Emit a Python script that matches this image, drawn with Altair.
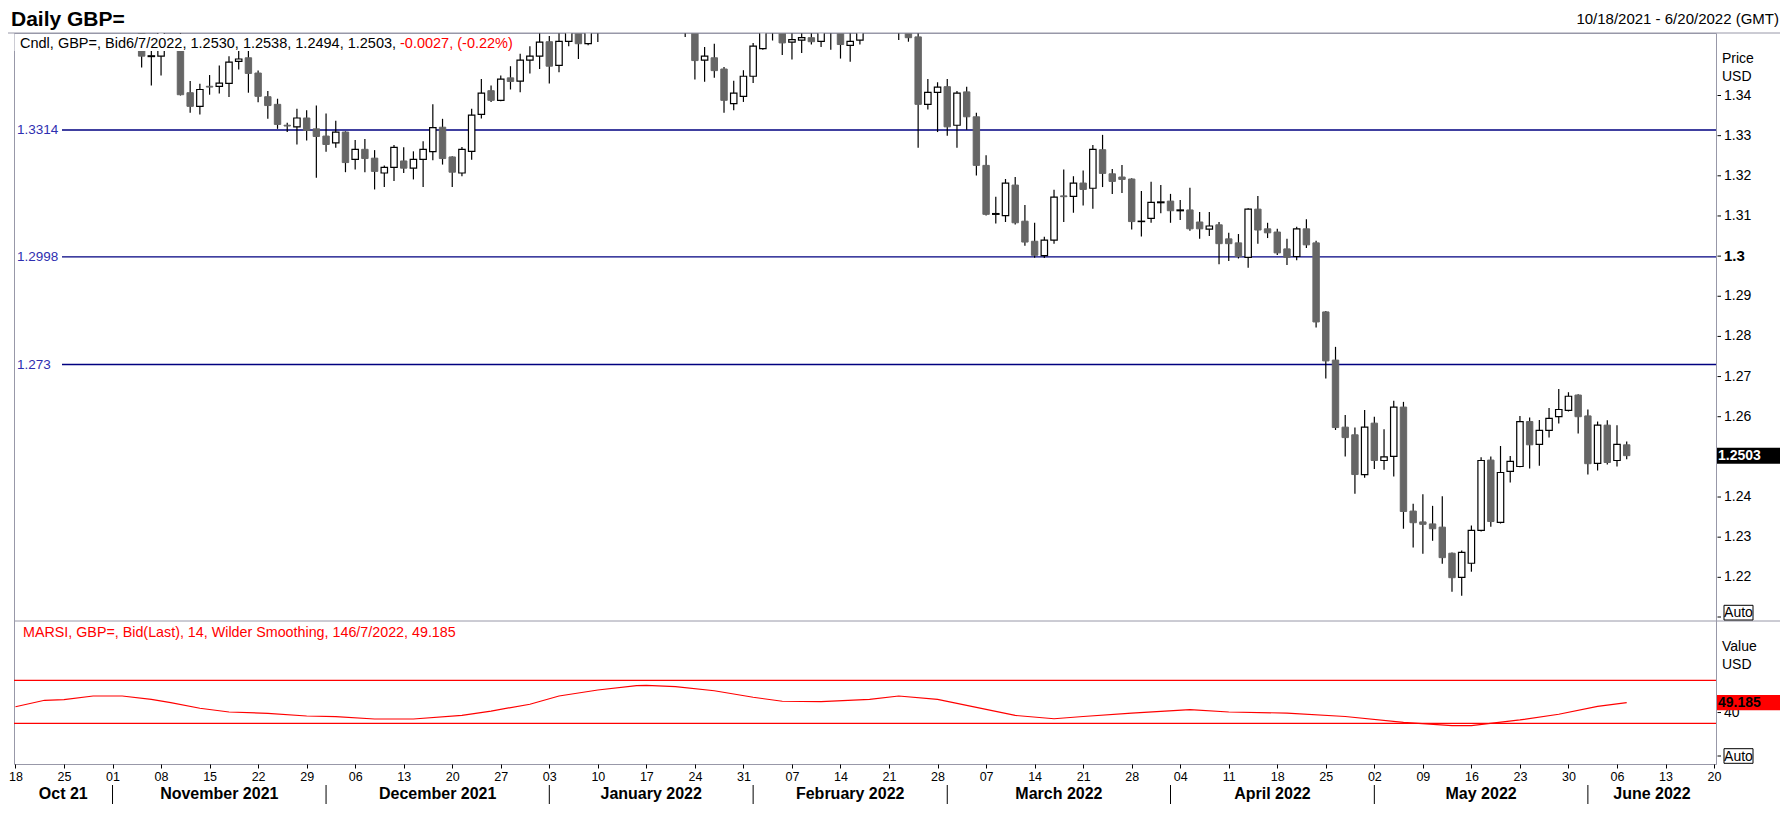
import altair as alt
import pandas as pd

# ---------------- data (trading-day index: 0 = Mon 18 Oct 2021) ----------------
day_idx = [13, 14, 15, 17, 18, 19, 20, 21, 22, 23, 24, 25, 26, 27, 28, 29, 30, 31, 32, 33,
           34, 35, 36, 37, 38, 39, 40, 41, 42, 43, 44, 45, 46, 47, 48, 49, 50, 51, 52, 53,
           54, 55, 56, 57, 58, 59, 60, 69, 70, 71, 72, 73, 74, 75, 76, 77, 78, 79, 80, 81,
           82, 83, 84, 85, 86, 87, 91, 92, 93, 94, 95, 96, 97, 98, 99, 100, 101, 102, 103, 104,
           105, 106, 107, 108, 109, 110, 111, 112, 113, 114, 115, 116, 117, 118, 119, 120, 121, 122, 123, 124,
           125, 126, 127, 128, 129, 130, 131, 132, 133, 134, 135, 136, 137, 138, 139, 140, 141, 142, 143, 144,
           145, 146, 147, 148, 149, 150, 151, 152, 153, 154, 155, 156, 157, 158, 159, 160, 161, 162, 163, 164,
           165, 166]
open_p = [1.3680, 1.3497, 1.3498, 1.3545, 1.3407, 1.3373, 1.3423, 1.3423, 1.3430, 1.3485, 1.3494, 1.3456, 1.3397, 1.3378, 1.3326, 1.3322, 1.3344, 1.3317, 1.3299, 1.3282,
          1.3309, 1.3241, 1.3266, 1.3244, 1.3207, 1.3221, 1.3237, 1.3219, 1.3241, 1.3260, 1.3321, 1.3247, 1.3207, 1.3261, 1.3353, 1.3412, 1.3388, 1.3444, 1.3436, 1.3488,
          1.3498, 1.3534, 1.3475, 1.3535, 1.3570, 1.3529, 1.3590, 1.3610, 1.3557, 1.3488, 1.3494, 1.3466, 1.3380, 1.3398, 1.3448, 1.3517, 1.3570, 1.3600, 1.3533, 1.3538,
          1.3544, 1.3535, 1.3575, 1.3560, 1.3525, 1.3538, 1.3595, 1.3590, 1.3546, 1.3378, 1.3408, 1.3422, 1.3326, 1.3409, 1.3347, 1.3226, 1.3104, 1.3101, 1.3177, 1.3087,
          1.3037, 1.3001, 1.3040, 1.3150, 1.3149, 1.3182, 1.3169, 1.3265, 1.3205, 1.3197, 1.3192, 1.3086, 1.3094, 1.3133, 1.3137, 1.3113, 1.3115, 1.3085, 1.3067, 1.3078,
          1.3043, 1.3033, 1.2997, 1.3117, 1.3068, 1.3060, 1.3018, 1.2999, 1.3068, 1.3033, 1.2861, 1.2741, 1.2574, 1.2555, 1.2456, 1.2584, 1.2491, 1.2501, 1.2624, 1.2365,
          1.2338, 1.2333, 1.2325, 1.2260, 1.2200, 1.2235, 1.2317, 1.2492, 1.2337, 1.2464, 1.2476, 1.2588, 1.2531, 1.2566, 1.2600, 1.2616, 1.2654, 1.2602, 1.2484, 1.2579,
          1.2491, 1.2530]
high_p = [1.3700, 1.3525, 1.3580, 1.3560, 1.3436, 1.3429, 1.3451, 1.3475, 1.3498, 1.3512, 1.3512, 1.3462, 1.3411, 1.3392, 1.3332, 1.3367, 1.3363, 1.3375, 1.3355, 1.3337,
          1.3311, 1.3289, 1.3292, 1.3264, 1.3226, 1.3277, 1.3271, 1.3261, 1.3286, 1.3378, 1.3342, 1.3249, 1.3272, 1.3367, 1.3441, 1.3425, 1.3450, 1.3473, 1.3504, 1.3523,
          1.3565, 1.3548, 1.3565, 1.3590, 1.3590, 1.3610, 1.3640, 1.3640, 1.3570, 1.3521, 1.3529, 1.3471, 1.3437, 1.3463, 1.3531, 1.3580, 1.3630, 1.3630, 1.3565, 1.3565,
          1.3560, 1.3640, 1.3600, 1.3580, 1.3565, 1.3600, 1.3640, 1.3610, 1.3565, 1.3441, 1.3433, 1.3441, 1.3411, 1.3422, 1.3357, 1.3251, 1.3148, 1.3192, 1.3197, 1.3127,
          1.3083, 1.3048, 1.3165, 1.3216, 1.3199, 1.3213, 1.3277, 1.3302, 1.3217, 1.3227, 1.3194, 1.3162, 1.3185, 1.3177, 1.3155, 1.3140, 1.3170, 1.3110, 1.3110, 1.3085,
          1.3058, 1.3055, 1.3119, 1.3150, 1.3083, 1.3068, 1.3043, 1.3073, 1.3092, 1.3038, 1.2863, 1.2774, 1.2604, 1.2573, 1.2617, 1.2600, 1.2569, 1.2640, 1.2637, 1.2383,
          1.2407, 1.2378, 1.2402, 1.2262, 1.2267, 1.2329, 1.2499, 1.2501, 1.2527, 1.2502, 1.2602, 1.2598, 1.2592, 1.2622, 1.2669, 1.2661, 1.2656, 1.2618, 1.2588, 1.2591,
          1.2579, 1.2538]
low_p = [1.3470, 1.3425, 1.3450, 1.3400, 1.3357, 1.3353, 1.3402, 1.3405, 1.3396, 1.3465, 1.3407, 1.3383, 1.3342, 1.3317, 1.3309, 1.3278, 1.3288, 1.3195, 1.3260, 1.3270,
         1.3209, 1.3216, 1.3209, 1.3166, 1.3172, 1.3187, 1.3207, 1.3191, 1.3172, 1.3239, 1.3228, 1.3172, 1.3199, 1.3240, 1.3343, 1.3384, 1.3386, 1.3415, 1.3408, 1.3455,
         1.3466, 1.3430, 1.3458, 1.3523, 1.3491, 1.3525, 1.3533, 1.3546, 1.3440, 1.3434, 1.3444, 1.3357, 1.3363, 1.3384, 1.3431, 1.3514, 1.3537, 1.3501, 1.3490, 1.3506,
         1.3527, 1.3521, 1.3514, 1.3492, 1.3484, 1.3527, 1.3538, 1.3534, 1.3270, 1.3365, 1.3309, 1.3300, 1.3270, 1.3315, 1.3201, 1.3101, 1.3081, 1.3085, 1.3079, 1.3026,
         1.2996, 1.2995, 1.3031, 1.3085, 1.3108, 1.3126, 1.3118, 1.3172, 1.3155, 1.3157, 1.3066, 1.3049, 1.3083, 1.3107, 1.3083, 1.3090, 1.3063, 1.3043, 1.3050, 1.2980,
         1.2988, 1.2994, 1.2971, 1.3031, 1.3045, 1.3003, 1.2978, 1.2990, 1.3020, 1.2822, 1.2695, 1.2567, 1.2501, 1.2408, 1.2448, 1.2470, 1.2468, 1.2451, 1.2321, 1.2274,
         1.2259, 1.2291, 1.2234, 1.2164, 1.2154, 1.2214, 1.2314, 1.2326, 1.2334, 1.2436, 1.2474, 1.2471, 1.2478, 1.2548, 1.2583, 1.2613, 1.2558, 1.2456, 1.2466, 1.2481,
         1.2476, 1.2494]
close_p = [1.3498, 1.3499, 1.3565, 1.3402, 1.3373, 1.3415, 1.3421, 1.3431, 1.3483, 1.3491, 1.3455, 1.3398, 1.3375, 1.3328, 1.3324, 1.3344, 1.3313, 1.3298, 1.3278, 1.3309,
           1.3233, 1.3266, 1.3243, 1.3211, 1.3221, 1.3271, 1.3219, 1.3241, 1.3266, 1.3320, 1.3243, 1.3209, 1.3266, 1.3351, 1.3406, 1.3388, 1.3441, 1.3435, 1.3488, 1.3498,
           1.3533, 1.3473, 1.3535, 1.3570, 1.3529, 1.3590, 1.3600, 1.3557, 1.3487, 1.3498, 1.3462, 1.3388, 1.3406, 1.3448, 1.3523, 1.3570, 1.3600, 1.3531, 1.3539, 1.3544,
           1.3534, 1.3565, 1.3560, 1.3527, 1.3535, 1.3590, 1.3600, 1.3544, 1.3378, 1.3408, 1.3421, 1.3322, 1.3406, 1.3347, 1.3226, 1.3104, 1.3106, 1.3182, 1.3083, 1.3035,
           1.3002, 1.3040, 1.3147, 1.3148, 1.3182, 1.3166, 1.3266, 1.3206, 1.3186, 1.3191, 1.3086, 1.3087, 1.3134, 1.3135, 1.3113, 1.3115, 1.3068, 1.3068, 1.3075, 1.3031,
           1.3031, 1.2999, 1.3117, 1.3065, 1.3058, 1.3008, 1.2997, 1.3068, 1.3028, 1.2836, 1.2739, 1.2573, 1.2548, 1.2456, 1.2574, 1.2491, 1.2500, 1.2624, 1.2364, 1.2336,
           1.2332, 1.2321, 1.2249, 1.2199, 1.2262, 1.2317, 1.2491, 1.2339, 1.2461, 1.2489, 1.2588, 1.2530, 1.2566, 1.2596, 1.2618, 1.2651, 1.2600, 1.2483, 1.2579, 1.2486,
           1.2531, 1.2503]

rsi_idx = [0, 3, 5, 8, 11, 14, 16, 19, 22, 26, 30, 33, 37, 41, 46, 49, 53, 56, 60, 64, 65, 68, 72,
           76, 79, 83, 88, 91, 95, 99, 103, 107, 110, 115, 121, 125, 131, 137, 143, 148, 150, 155,
           159, 163, 166]
rsi_val = [45.4, 51.4, 52.0, 55.4, 55.4, 52.3, 49.2, 44.0, 40.5, 39.3, 36.8, 36.2, 34.0, 34.0, 37.4,
           41.4, 47.7, 55.4, 61.0, 65.0, 65.3, 64.1, 60.3, 54.2, 50.5, 50.1, 52.2, 55.4, 52.2, 44.8,
           37.3, 34.2, 36.3, 39.5, 42.7, 40.5, 39.5, 36.3, 30.9, 27.8, 27.8, 33.1, 38.4, 45.8, 49.185]
rsi_levels = [70, 30]

levels = [1.3314, 1.2998, 1.273]
level_text = ["1.3314", "1.2998", "1.273"]

# 1.25 sits under the last-price box, so only its tick mark is drawn
price_ticks = [1.34, 1.33, 1.32, 1.31, 1.30, 1.29, 1.28, 1.27, 1.26, 1.24, 1.23, 1.22]
price_tick_text = ["1.34", "1.33", "1.32", "1.31", "1.3", "1.29", "1.28", "1.27", "1.26",
                   "1.24", "1.23", "1.22"]
price_tick_bold = [False, False, False, False, True, False, False, False, False, False, False, False]
rsi_ticks = [40]
rsi_tick_text = ["40"]

monday_idx = list(range(0, 176, 5))
monday_text = ["18", "25", "01", "08", "15", "22", "29", "06", "13", "20", "27", "03", "10", "17",
               "24", "31", "07", "14", "21", "28", "07", "14", "21", "28", "04", "11", "18", "25",
               "02", "09", "16", "23", "30", "06", "13", "20"]
month_names = ["Oct 21", "November 2021", "December 2021", "January 2022", "February 2022",
               "March 2022", "April 2022", "May 2022", "June 2022"]
month_start = [-0.15, 10, 32, 55, 76, 96, 119, 140, 162]
month_end = [10, 32, 55, 76, 96, 119, 140, 162, 175.2]

title_text = "Daily GBP="
range_text = "10/18/2021 - 6/20/2022 (GMT)"
cndl_text = "Cndl, GBP=, Bid6/7/2022, 1.2530, 1.2538, 1.2494, 1.2503, "
chg_text = "-0.0027, (-0.22%)"
rsi_text = "MARSI, GBP=, Bid(Last),  14, Wilder Smoothing, 146/7/2022, 49.185"
last_price = 1.2503
last_price_text = "1.2503"
last_rsi = 49.185
last_rsi_text = "49.185"

# ---------------- layout ----------------
W, H, PH = 1702, 731, 588
FONT = "Liberation Sans, Arial, sans-serif"
GRAY = "#9898a8"

x_scale = alt.Scale(domain=[-0.15, 175.2], nice=False, zero=False)
p_scale = alt.Scale(domain=[1.20912, 1.35557], range=[PH, 0], nice=False, zero=False)
r_scale = alt.Scale(domain=[-7.9, 125.2], range=[H, PH], nice=False, zero=False)

label_expr = "[" + ",".join("'%s'" % t for t in monday_text) + "][round(datum.value/5)]"
x_axis = alt.Axis(values=monday_idx, labelExpr=label_expr, title=None, grid=False, domain=False,
                  ticks=True, tickSize=4, tickColor="#000000", labelFont=FONT, labelFontSize=12.5,
                  labelColor="#000000", labelPadding=2, labelFlush=True, labelOverlap=False)


def X(f):
    return alt.X(f, type="quantitative", scale=x_scale, axis=x_axis)


def PY(f):
    return alt.Y(f, type="quantitative", scale=p_scale, axis=None)


def RY(f):
    return alt.Y(f, type="quantitative", scale=r_scale, axis=None)


one = lambda **kw: pd.DataFrame({k: [v] for k, v in kw.items()})

candles = pd.DataFrame({"i": day_idx, "o": open_p, "h": high_p, "l": low_p, "c": close_p})
base = alt.Chart(candles)

wicks = base.mark_rule(color="#000000", strokeWidth=1.2, clip=True).encode(
    x=X("i"), y=PY("l"), y2="h")
body = base.transform_calculate(x0="datum.i - 0.33", x1="datum.i + 0.33")
up = body.transform_filter("datum.c >= datum.o").mark_rect(
    fill="white", stroke="#000000", strokeWidth=1.2, clip=True).encode(
    x=X("x0"), x2="x1", y=PY("o"), y2="c")
down = body.transform_filter("datum.c < datum.o").mark_rect(
    fill="#666666", stroke="#666666", strokeWidth=1, clip=True).encode(
    x=X("x0"), x2="x1", y=PY("o"), y2="c")

lv = pd.DataFrame({"v": levels, "t": level_text})
lv_rules = alt.Chart(lv).mark_rule(color="#000080", strokeWidth=1.4).encode(
    y=PY("v"), x=alt.value(48), x2=alt.value(W))
lv_text = alt.Chart(lv).mark_text(align="left", baseline="middle", font=FONT, fontSize=13.5,
                                  color="#2e2eb0").encode(y=PY("v"), x=alt.value(3), text="t")

mask = alt.Chart(one(k=0)).mark_rect(fill="white").encode(
    x=alt.value(0.5), x2=alt.value(512), y=alt.value(1), y2=alt.value(18))

rsi_df = pd.DataFrame({"i": rsi_idx, "v": rsi_val})
rsi_line = alt.Chart(rsi_df).mark_line(color="#ff0000", strokeWidth=1.2).encode(
    x=X("i"), y=RY("v"))
rsi_lv = alt.Chart(pd.DataFrame({"v": rsi_levels})).mark_rule(color="#ff0000", strokeWidth=1.2).encode(
    y=RY("v"))

# separators
top_sep = alt.Chart(one(k=0)).mark_rule(color=GRAY).encode(
    x=alt.value(-6), x2=alt.value(W + 64), y=alt.value(0))
mid_sep = alt.Chart(one(k=0)).mark_rule(color=GRAY).encode(
    x=alt.value(0), x2=alt.value(W + 64), y=alt.value(PH))

# price axis (right)
pt = pd.DataFrame({"v": price_ticks, "t": price_tick_text, "b": price_tick_bold})
pt_marks = alt.Chart(pt).mark_rule(color="#000000").encode(
    y=PY("v"), x=alt.value(W + 1.5), x2=alt.value(W + 5))
pt_norm = alt.Chart(pt).transform_filter("!datum.b").mark_text(
    align="left", baseline="middle", font=FONT, fontSize=14, color="#000000").encode(
    y=PY("v"), x=alt.value(W + 8), text="t")
pt_bold = alt.Chart(pt).transform_filter("datum.b").mark_text(
    align="left", baseline="middle", font=FONT, fontSize=15, fontWeight="bold", color="#000000").encode(
    y=PY("v"), x=alt.value(W + 8), text="t")

rt = pd.DataFrame({"v": rsi_ticks, "t": rsi_tick_text})
rt_marks = alt.Chart(rt).mark_rule(color="#000000").encode(
    y=RY("v"), x=alt.value(W + 1.5), x2=alt.value(W + 5))
rt_text = alt.Chart(rt).mark_text(align="left", baseline="middle", font=FONT, fontSize=14,
                                  color="#000000").encode(y=RY("v"), x=alt.value(W + 8), text="t")

# last value boxes
lp = alt.Chart(one(v=last_price, t=last_price_text)).transform_calculate(
    top="datum.v + 0.002", bot="datum.v - 0.002")
lp_box = lp.mark_rect(color="#000000").encode(x=alt.value(W + 1), x2=alt.value(W + 72),
                                              y=PY("top"), y2="bot")
lp_txt = lp.mark_text(align="left", baseline="middle", font=FONT, fontSize=14, fontWeight="bold",
                      color="white").encode(x=alt.value(W + 2), y=PY("v"), text="t")
lr = alt.Chart(one(v=last_rsi, t=last_rsi_text)).transform_calculate(
    top="datum.v + 7.1", bot="datum.v - 7.1")
lr_box = lr.mark_rect(color="#ff0000").encode(x=alt.value(W + 1), x2=alt.value(W + 72),
                                              y=RY("top"), y2="bot")
lr_txt = lr.mark_text(align="left", baseline="middle", font=FONT, fontSize=14, fontWeight="bold",
                      color="#000000").encode(x=alt.value(W + 2), y=RY("v"), text="t")


def txt(t, x, y, size=14, color="#000000", weight="normal", align="left", baseline="middle"):
    return alt.Chart(one(t=t)).mark_text(align=align, baseline=baseline, font=FONT, fontSize=size,
                                         fontWeight=weight, color=color).encode(
        x=alt.value(x), y=alt.value(y), text="t")


def auto_box(y0, y1, tick_y):
    box = alt.Chart(one(t="Auto")).mark_rect(fill="white", stroke="#000000", strokeWidth=1).encode(
        x=alt.value(W + 8), x2=alt.value(W + 37), y=alt.value(y0), y2=alt.value(y1))
    tick = alt.Chart(one(t="Auto")).mark_rule(color="#000000").encode(
        x=alt.value(W + 1.5), x2=alt.value(W + 5), y=alt.value(tick_y), y2=alt.value(tick_y))
    lab = alt.Chart(one(t="Auto")).mark_text(align="center", baseline="middle", font=FONT,
                                             fontSize=14, color="#000000").encode(
        x=alt.value(W + 22.5), y=alt.value((y0 + y1) / 2 + 0.5), text="t")
    return [tick, box, lab]


# month labels / separators under the x axis
md = pd.DataFrame({"name": month_names, "s": month_start, "e": month_end})
m_sep = alt.Chart(md).transform_filter("datum.s > 0").mark_rule(color="#000000").encode(
    x=X("s"), y=alt.value(H + 21), y2=alt.value(H + 40))
m_lab = alt.Chart(md).transform_calculate(m="(datum.s + datum.e) / 2").mark_text(
    align="center", baseline="middle", font=FONT, fontSize=16, fontWeight="bold",
    color="#000000").encode(x=X("m"), y=alt.value(H + 30), text="name")

layers = [
    lv_rules, rsi_lv, wicks, down, up, mask, rsi_line,
    top_sep, mid_sep, lv_text,
    txt(title_text, -3, -7, size=21, weight="bold", baseline="alphabetic"),
    txt(range_text, W + 63, -9, size=15, align="right", baseline="alphabetic"),
    txt(cndl_text, 6, 15.3, size=14.5, baseline="alphabetic"),
    txt(chg_text, 386, 15.3, size=14.5, color="#ff0000", baseline="alphabetic"),
    txt(rsi_text, 9, 604, size=14.3, color="#ff0000", baseline="alphabetic"),
    txt("Price", W + 6, 25.5), txt("USD", W + 6, 44),
    txt("Value", W + 6, 614), txt("USD", W + 6, 632),
    pt_marks, pt_norm, pt_bold, rt_marks, rt_text,
    lp_box, lp_txt, lr_box, lr_txt,
] + auto_box(572.3, 587, 584) + auto_box(715.7, 730.3, 723) + [m_sep, m_lab]

chart = alt.layer(*layers).resolve_scale(y="independent").properties(
    width=W, height=H,
    autosize=alt.AutoSizeParams(type="none"),
    padding={"left": 6, "top": 25, "right": 64, "bottom": 55},
).configure_view(stroke=GRAY, strokeWidth=1)

chart.save("out.html", embed_options={"renderer": "svg", "actions": False})
